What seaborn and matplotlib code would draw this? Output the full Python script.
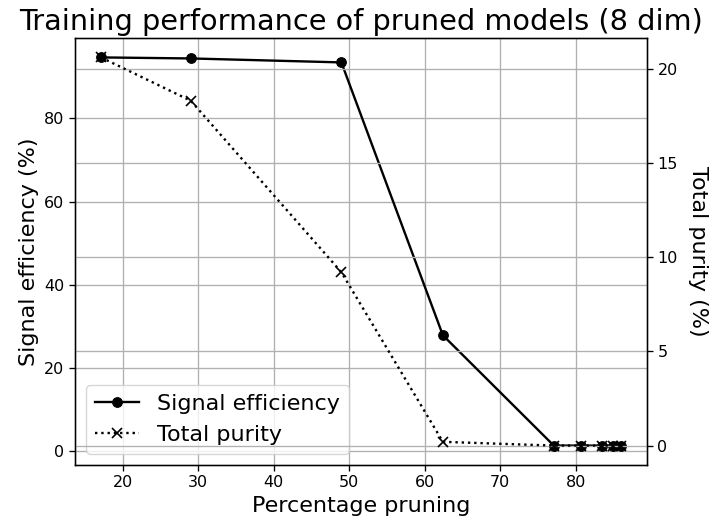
import matplotlib
matplotlib.use("Agg")
import matplotlib.pyplot as plt
import seaborn as sns
import pandas as pd

# Pruning percentage of each model and its training metrics
pruning = [17.1, 29.0, 48.95, 62.4, 77.1, 80.7, 83.5, 85.0, 86.0]
signal_efficiency = [94.65, 94.4, 93.45, 27.9, 1.4, 1.4, 1.4, 1.4, 1.4]
total_purity = [20.6, 18.3, 9.2, 0.2, 0.0, 0.0, 0.0, 0.0, 0.0]

df = pd.DataFrame({"pruning": pruning, "eff": signal_efficiency, "purity": total_purity})

plt.rcParams.update({
    "font.family": ["DejaVu Sans"],
    "axes.linewidth": 0.95,
    "xtick.major.size": 4,
    "ytick.major.size": 4,
    "xtick.major.width": 0.95,
    "ytick.major.width": 0.95,
    "xtick.labelsize": 11.5,
    "ytick.labelsize": 11.5,
    "grid.color": "#b0b0b0",
    "grid.linewidth": 0.95,
})

fig, ax = plt.subplots(figsize=(7.13, 5.24), dpi=100)
fig.subplots_adjust(left=75 / 713, right=647 / 713, top=1 - 38 / 524, bottom=1 - 465 / 524)

sns.lineplot(data=df, x="pruning", y="eff", ax=ax, color="black", marker="o",
             markersize=7, markeredgecolor="black", linewidth=1.7,
             label="Signal efficiency")
ax2 = ax.twinx()
sns.lineplot(data=df, x="pruning", y="purity", ax=ax2, color="black", marker="x",
             markersize=7, markeredgecolor="black", markeredgewidth=1.2,
             linestyle=":", linewidth=1.7, label="Total purity")

ax.grid(True)
ax2.grid(True)

ax.set_xlabel("Percentage pruning", fontsize=16)
ax.set_ylabel("Signal efficiency (%)", fontsize=16)
ax2.set_ylabel("Total purity (%)", fontsize=16, rotation=270, labelpad=22)
ax.set_title("Training performance of pruned models (8 dim)", fontsize=20.7)

h1, l1 = ax.get_legend_handles_labels()
h2, l2 = ax2.get_legend_handles_labels()
if ax2.get_legend() is not None:
    ax2.get_legend().remove()
ax.legend(h1 + h2, l1 + l2, loc="lower left", fontsize=16)

fig.savefig("out.png", dpi=100)
